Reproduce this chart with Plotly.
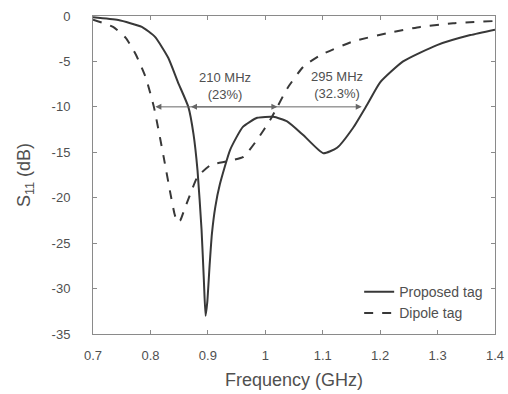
import plotly.graph_objects as go

freq_prop = [0.70, 0.744, 0.785, 0.808, 0.831, 0.848, 0.866, 0.875, 0.882, 0.889, 0.893, 0.896, 0.899, 0.903, 0.907, 0.913, 0.921, 0.939, 0.961, 0.986, 1.014, 1.038, 1.066, 1.101, 1.125, 1.153, 1.177, 1.200, 1.240, 1.299, 1.357, 1.40]
s11_prop = [-0.15, -0.45, -1.2, -2.3, -4.6, -7.3, -10.0, -13.0, -17.0, -23.5, -29.0, -33.0, -31.5, -27.5, -24.0, -21.0, -18.5, -14.7, -12.2, -11.2, -11.1, -11.6, -13.1, -15.1, -14.5, -12.3, -9.8, -7.3, -5.0, -3.2, -2.1, -1.5]

freq_dip = [0.70, 0.735, 0.757, 0.775, 0.792, 0.806, 0.823, 0.835, 0.842, 0.847, 0.852, 0.858, 0.870, 0.882, 0.905, 0.934, 0.962, 0.986, 1.009, 1.021, 1.038, 1.066, 1.096, 1.153, 1.212, 1.27, 1.327, 1.40]
s11_dip = [-0.4, -1.2, -2.4, -4.3, -6.8, -10.0, -15.5, -19.6, -21.8, -22.7, -22.5, -21.5, -19.5, -17.7, -16.4, -16.0, -15.5, -13.6, -11.4, -10.0, -8.0, -5.6, -4.3, -2.8, -1.9, -1.2, -0.8, -0.55]

x_ticks = [0.7, 0.8, 0.9, 1.0, 1.1, 1.2, 1.3, 1.4]
x_tick_labels = ["0.7", "0.8", "0.9", "1", "1.1", "1.2", "1.3", "1.4"]
y_ticks = [0, -5, -10, -15, -20, -25, -30, -35]
y_tick_labels = ["0", "-5", "-10", "-15", "-20", "-25", "-30", "-35"]

band_210 = [0.806, 1.021]
band_295 = [0.868, 1.168]
band_level = -10

FONT = "Liberation Sans, Arial, sans-serif"
TXT = "#505050"
LINE = "#383838"
AX = "#8a8a8a"

fig = go.Figure()
fig.add_trace(go.Scatter(x=freq_prop, y=s11_prop, mode="lines", name="Proposed tag",
                         line=dict(color=LINE, width=2, shape="spline", smoothing=0.5)))
fig.add_trace(go.Scatter(x=freq_dip, y=s11_dip, mode="lines", name="Dipole tag",
                         line=dict(color=LINE, width=2, dash="dash", shape="spline", smoothing=0.5)))

for band in (band_210, band_295):
    fig.add_annotation(x=band[1], y=band_level, ax=band[0], ay=band_level,
                       xref="x", yref="y", axref="x", ayref="y", text="",
                       showarrow=True, arrowhead=2, arrowside="end+start",
                       arrowsize=1.2, arrowwidth=1, arrowcolor="#666666")

labels = [(0.929, -7.75, "210 MHz<br>(23%)"), (1.125, -7.6, "295 MHz<br>(32.3%)")]
for lx, ly, lt in labels:
    fig.add_annotation(x=lx, y=ly, xref="x", yref="y", text=lt, showarrow=False,
                       borderpad=0, font=dict(family=FONT, size=13, color=TXT))

axis_common = dict(showline=True, linecolor=AX, linewidth=1, mirror="ticks",
                   ticks="inside", ticklen=4, tickcolor=AX, showgrid=False, zeroline=False,
                   automargin=False, ticklabeloverflow="allow",
                   tickfont=dict(family=FONT, size=13, color=TXT))

fig.update_xaxes(range=[0.7, 1.4], tickvals=x_ticks, ticktext=x_tick_labels,
                 title=dict(text="Frequency (GHz)", font=dict(family=FONT, size=18, color=TXT), standoff=11),
                 ticklabelstandoff=9, **axis_common)
fig.update_yaxes(range=[-35, 0], tickvals=y_ticks, ticktext=y_tick_labels,
                 title=dict(text="S<sub>11</sub> (dB)", font=dict(family=FONT, size=18, color=TXT), standoff=16),
                 ticklabelstandoff=19, **axis_common)

fig.update_layout(
    width=508, height=394,
    margin=dict(l=93, r=13, t=16, b=60),
    paper_bgcolor="white", plot_bgcolor="white",
    showlegend=True,
    legend=dict(x=0.983, y=0.015, xanchor="right", yanchor="bottom",
                bgcolor="rgba(0,0,0,0)", font=dict(family=FONT, size=14, color=TXT),
                tracegroupgap=0),
)

fig.write_html("out.html", config={"displayModeBar": False},
               post_script="document.body.style.margin='0';document.body.style.overflow='hidden';")
